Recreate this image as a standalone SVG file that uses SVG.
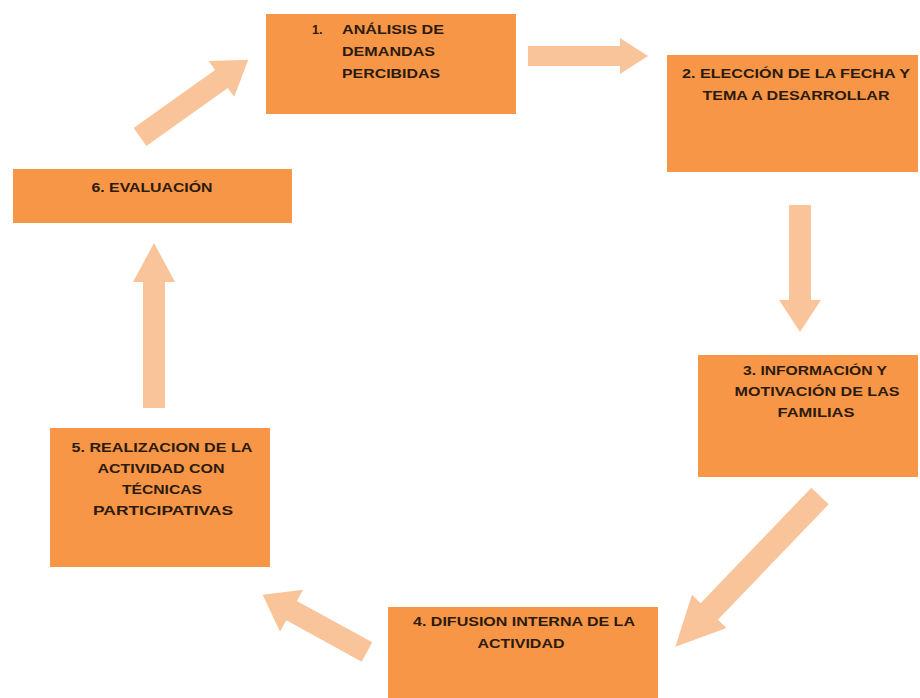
<svg xmlns="http://www.w3.org/2000/svg" width="920" height="698" viewBox="0 0 920 698">
<style>
.box{fill:#F79646;}
.t{font-family:"Liberation Sans",Arial,sans-serif;font-weight:bold;font-size:12.5px;fill:#2b1a0e;}
.c{text-anchor:middle;}
.arr{fill:#FAC49A;}
</style>
<rect width="920" height="698" fill="#ffffff"/>
<g id="connectors">
  <polygon class="arr" transform="translate(528,56)" points="0,-10 92,-10 92,-18 120,0 92,18 92,10 0,10"/>
  <polygon class="arr" transform="translate(800,205) rotate(90)" points="0,-11 95,-11 95,-21 127,0 95,21 95,11 0,11"/>
  <polygon class="arr" transform="translate(820,496) rotate(133.8)" points="0,-12 160,-12 160,-24 209,0 160,24 160,12 0,12"/>
  <polygon class="arr" transform="translate(367,652) rotate(-151.3)" points="0,-11 86,-11 86,-24 119,0 86,24 86,11 0,11"/>
  <polygon class="arr" transform="translate(154,408) rotate(-90)" points="0,-11 126,-11 126,-21 165,0 126,21 126,11 0,11"/>
  <polygon class="arr" transform="translate(140,137) rotate(-35.5)" points="0,-11 100,-11 100,-22 133,0 100,22 100,11 0,11"/>
</g>
<g id="node1">
  <rect class="box" x="266" y="14" width="250" height="100"/>
  <text class="t" x="312" y="34">1.</text>
  <text class="t" x="342" y="34" textLength="102" lengthAdjust="spacingAndGlyphs">ANÁLISIS DE</text>
  <text class="t" x="342" y="56" textLength="93" lengthAdjust="spacingAndGlyphs">DEMANDAS</text>
  <text class="t" x="342" y="78" textLength="98" lengthAdjust="spacingAndGlyphs">PERCIBIDAS</text>
</g>
<g id="node2">
  <rect class="box" x="667" y="55" width="251" height="117"/>
  <text class="t c" x="796" y="78" textLength="228" lengthAdjust="spacingAndGlyphs">2. ELECCIÓN DE LA FECHA Y</text>
  <text class="t c" x="796" y="100" textLength="187" lengthAdjust="spacingAndGlyphs">TEMA A DESARROLLAR</text>
</g>
<g id="node3">
  <rect class="box" x="698" y="355" width="220" height="122"/>
  <text class="t c" x="815" y="375" textLength="144" lengthAdjust="spacingAndGlyphs">3. INFORMACIÓN Y</text>
  <text class="t c" x="817" y="396" textLength="165" lengthAdjust="spacingAndGlyphs">MOTIVACIÓN DE LAS</text>
  <text class="t c" x="816" y="417" textLength="77" lengthAdjust="spacingAndGlyphs">FAMILIAS</text>
</g>
<g id="node4">
  <rect class="box" x="388" y="607" width="270" height="91"/>
  <text class="t c" x="524" y="626" textLength="222" lengthAdjust="spacingAndGlyphs">4. DIFUSION INTERNA DE LA</text>
  <text class="t c" x="521" y="648" textLength="87" lengthAdjust="spacingAndGlyphs">ACTIVIDAD</text>
</g>
<g id="node5">
  <rect class="box" x="50" y="428" width="220" height="139"/>
  <text class="t c" x="162" y="452" textLength="181" lengthAdjust="spacingAndGlyphs">5. REALIZACION DE LA</text>
  <text class="t c" x="161" y="473" textLength="127" lengthAdjust="spacingAndGlyphs">ACTIVIDAD CON</text>
  <text class="t c" x="162" y="494" textLength="80" lengthAdjust="spacingAndGlyphs">TÉCNICAS</text>
  <text class="t c" x="163" y="515" textLength="140" lengthAdjust="spacingAndGlyphs">PARTICIPATIVAS</text>
</g>
<g id="node6">
  <rect class="box" x="13" y="169" width="279" height="54"/>
  <text class="t c" x="152" y="192" textLength="121" lengthAdjust="spacingAndGlyphs">6. EVALUACIÓN</text>
</g>
</svg>
